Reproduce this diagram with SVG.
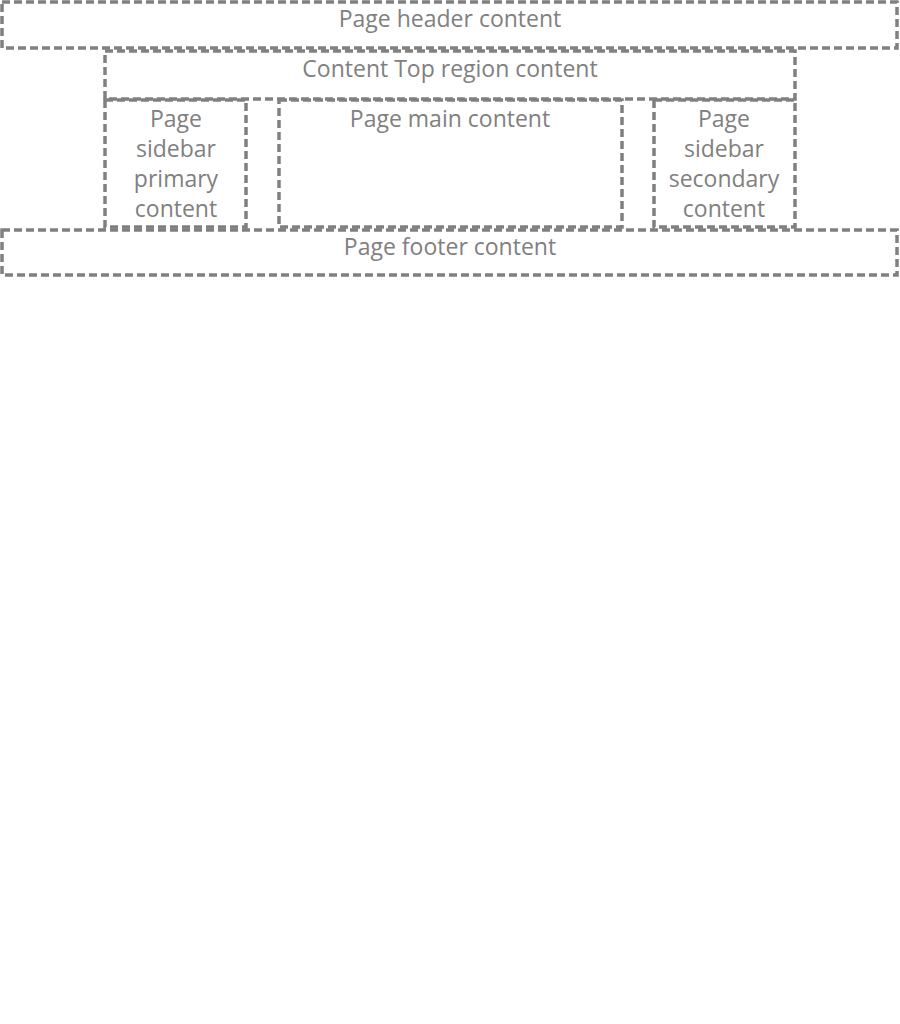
<svg xmlns="http://www.w3.org/2000/svg" width="900" height="1024" viewBox="0 0 900 1024">
<style>
.box{fill:none;stroke:#808080;stroke-width:3.5;stroke-dasharray:8 4}
.t{font-family:"Open Sans","Liberation Sans",sans-serif;font-size:23px;fill:#808080;text-anchor:middle}
</style>
<rect width="900" height="1024" fill="#fff"/>
<g id="header"><rect class="box" x="2" y="2" width="895" height="46"/><text class="t" x="450" y="27">Page header content</text></g>
<g id="content-top"><rect class="box" x="105" y="51" width="690" height="48"/><text class="t" x="450" y="77">Content Top region content</text></g>
<g id="sidebar-primary"><rect class="box" x="105" y="100" width="141" height="127"/><text class="t" x="176" y="127">Page</text><text class="t" x="176" y="157">sidebar</text><text class="t" x="176" y="187">primary</text><text class="t" x="176" y="217">content</text></g>
<g id="main"><rect class="box" x="279" y="100" width="343" height="127"/><text class="t" x="450" y="127">Page main content</text></g>
<g id="sidebar-secondary"><rect class="box" x="654" y="100" width="141" height="127"/><text class="t" x="724" y="127">Page</text><text class="t" x="724" y="157">sidebar</text><text class="t" x="724" y="187">secondary</text><text class="t" x="724" y="217">content</text></g>
<g id="footer"><rect class="box" x="2" y="230" width="895" height="45"/><text class="t" x="450" y="255">Page footer content</text></g>
<g id="connectors"></g>
</svg>
